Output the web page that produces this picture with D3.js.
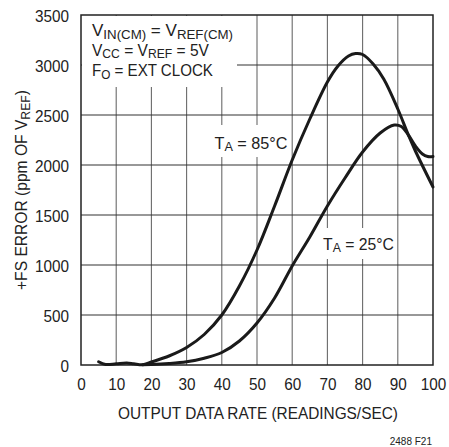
<!DOCTYPE html>
<html>
<head>
<meta charset="utf-8">
<script src="https://cdn.jsdelivr.net/npm/d3@7/dist/d3.min.js"></script>
<style>
  html, body { margin: 0; padding: 0; background: #fff; }
  svg { display: block; }
  text { font-family: "Liberation Sans", Arial, Helvetica, sans-serif; fill: #222; }
</style>
</head>
<body>
<svg id="chart" width="449" height="447"></svg>
<script>
// ---- data ----
const rate85 = [5, 7, 10, 13, 15, 17.5, 20, 25, 30, 35, 40, 45, 50, 55, 60, 65, 70, 73, 76, 78, 80, 83, 86, 90, 93, 95, 100];
const err85  = [33, 5, 12, 20, 12, 2, 30, 90, 175, 305, 500, 790, 1150, 1590, 2050, 2460, 2830, 2990, 3090, 3115, 3105, 3010, 2860, 2560, 2300, 2140, 1780];
const rate25 = [17.5, 20, 25, 30, 35, 40, 45, 50, 55, 60, 65, 70, 75, 80, 85, 89, 91, 93, 95, 97, 98.5, 100];
const err25  = [2, 4, 14, 32, 68, 125, 240, 420, 670, 990, 1280, 1590, 1870, 2130, 2320, 2400, 2385, 2300, 2190, 2110, 2085, 2085];
const xTicks = [0, 10, 20, 30, 40, 50, 60, 70, 80, 90, 100];
const yTicks = [0, 500, 1000, 1500, 2000, 2500, 3000, 3500];
const xTitle = "OUTPUT DATA RATE (READINGS/SEC)";
const yTitle = [["+FS ERROR (ppm OF V", 0], ["REF", 1], [")", 0]];
const noteLines = [
  [["V", 0], ["IN(CM)", 1], [" = V", 0], ["REF(CM)", 1]],
  [["V", 0], ["CC", 1], [" = V", 0], ["REF", 1], [" = 5V", 0]],
  [["F", 0], ["O", 1], [" = EXT CLOCK", 0]]
];
const label85 = [["T", 0], ["A", 1], [" = 85°C", 0]];
const label25 = [["T", 0], ["A", 1], [" = 25°C", 0]];
const figId = "2488 F21";

// ---- layout ----
const L = 81, R = 433, T = 15, B = 365;
const svg = d3.select("#chart");
const x = d3.scaleLinear().domain([0, 100]).range([L, R]);
const y = d3.scaleLinear().domain([0, 3500]).range([B, T]);

// grid
const grid = svg.append("g");
grid.selectAll("line.v").data(xTicks.slice(1, -1)).join("line")
  .attr("x1", d => x(d)).attr("x2", d => x(d)).attr("y1", T).attr("y2", B)
  .attr("stroke", "#6a6a6a").attr("stroke-width", 1.1);
grid.selectAll("line.h").data(yTicks.slice(1, -1)).join("line")
  .attr("x1", L).attr("x2", R).attr("y1", d => y(d)).attr("y2", d => y(d))
  .attr("stroke", "#333").attr("stroke-width", 1.1);

// white boxes behind annotations
svg.append("rect").attr("x", L + 1).attr("y", T + 1).attr("width", 155).attr("height", 71).attr("fill", "#fff");
svg.append("rect").attr("x", 207).attr("y", 125).attr("width", 84).attr("height", 32).attr("fill", "#fff");
svg.append("rect").attr("x", 317).attr("y", 228).attr("width", 79).attr("height", 31).attr("fill", "#fff");

// frame
svg.append("rect").attr("x", L).attr("y", T).attr("width", R - L).attr("height", B - T)
  .attr("fill", "none").attr("stroke", "#222").attr("stroke-width", 1.5);

// curves
const line = d3.line().x(d => x(d[0])).y(d => y(d[1])).curve(d3.curveCatmullRom.alpha(0.5));
svg.append("path").datum(d3.zip(rate85, err85)).attr("d", line)
  .attr("fill", "none").attr("stroke", "#1a1a1a").attr("stroke-width", 3).attr("stroke-linecap", "round");
svg.append("path").datum(d3.zip(rate25, err25)).attr("d", line)
  .attr("fill", "none").attr("stroke", "#1a1a1a").attr("stroke-width", 3).attr("stroke-linecap", "round");

// axes (labels only)
const S = 0.9;
const yAxis = svg.append("g").attr("transform", `translate(${L},0)`)
  .call(d3.axisLeft(y).tickValues(yTicks).tickSize(0).tickFormat(d3.format("d")));
yAxis.select(".domain").remove();
yAxis.selectAll("text").attr("x", -12 / S).attr("dy", "0.36em")
  .attr("transform", `scale(${S},1)`)
  .style("font-size", "17px").style("font-family", '"Liberation Sans", Arial, sans-serif').attr("fill", "#222");

const xAxis = svg.append("g").attr("transform", `translate(0,${B})`)
  .call(d3.axisBottom(x).tickValues(xTicks).tickSize(0).tickFormat(d3.format("d")));
xAxis.select(".domain").remove();
xAxis.selectAll("text").attr("y", 25.5).attr("dy", 0).attr("x", 0)
  .attr("transform", `scale(${S},1)`)
  .style("font-size", "17px").style("font-family", '"Liberation Sans", Arial, sans-serif').attr("fill", "#222");

// helper: rich text with subscripts, fitted to a target width
function richText(parts, px, py, size, width, anchor, rot) {
  const g = svg.append("g");
  const t = g.append("text").style("font-size", size + "px").attr("text-anchor", "start");
  const drop = size * 0.18;
  parts.forEach((p, i) => {
    const prev = i > 0 ? parts[i - 1][1] : 0;
    const ts = t.append("tspan").text(p[0]);
    if (p[1]) { ts.style("font-size", (size * 0.78) + "px"); ts.attr("dy", prev ? 0 : drop); }
    else if (prev) { ts.attr("dy", -drop); }
  });
  const w = t.node().getComputedTextLength();
  const s = width / w;
  let ox = 0;
  if (anchor === "middle") ox = -width / 2;
  if (anchor === "end") ox = -width;
  g.attr("transform", `translate(${px},${py}) rotate(${rot || 0}) translate(${ox},0) scale(${s},1)`);
  return g;
}

// annotation block
richText(noteLines[0], 92, 36, 16, 141, "start");
richText(noteLines[1], 92, 55.5, 16, 117, "start");
richText(noteLines[2], 92, 76, 16, 121, "start");

// curve labels
richText(label85, 214.5, 148.5, 16.5, 73, "start");
richText(label25, 323, 249.5, 16.5, 71, "start");

// axis titles
richText([[xTitle, 0]], (118 + 398) / 2, 419, 17, 280, "middle");
richText(yTitle, 27, 190, 17, 200, "middle", -90);

// figure id
svg.append("text").attr("x", 432).attr("y", 445).attr("text-anchor", "end")
  .style("font-size", "10px").attr("fill", "#444").text(figId);
</script>
</body>
</html>
